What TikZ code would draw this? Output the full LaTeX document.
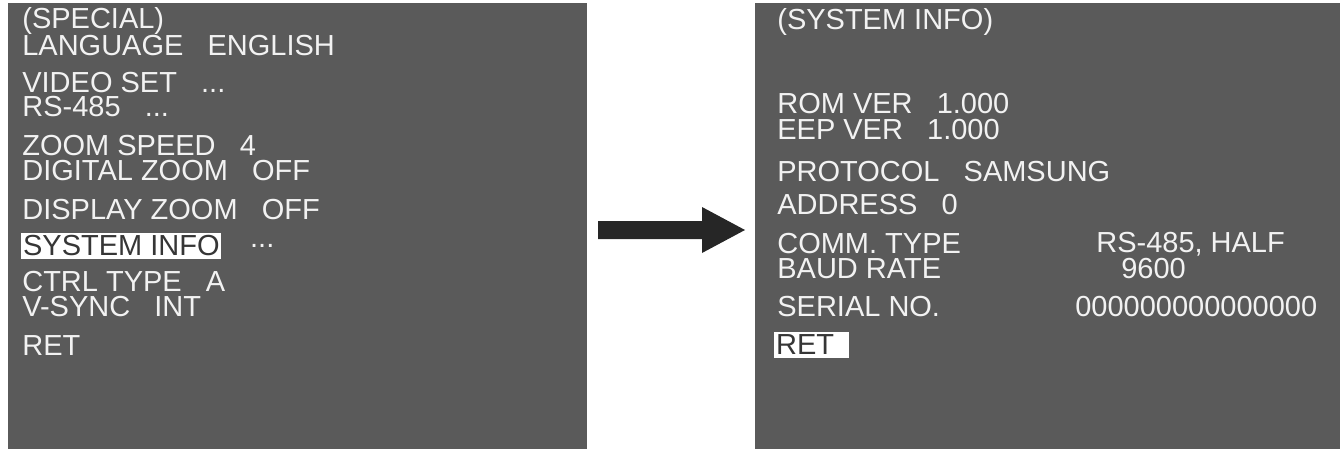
\documentclass[tikz,border=0pt]{standalone}
\usepackage{fontspec}
\setmainfont{Liberation Sans}
\usetikzlibrary{positioning}
\definecolor{screen}{HTML}{5A5A5A}
\definecolor{osd}{HTML}{F2F2F2}
\begin{document}
\begin{tikzpicture}[x=0.02cm,y=-0.02cm,
  item/.style={anchor=west,inner sep=0pt,text=osd,font=\fontsize{16.5}{16.5}\selectfont},
  picked/.style={item,fill=white,text=screen!60!black,inner xsep=1pt,inner ysep=1.5pt}]
  \useasboundingbox (0,0) rectangle (1343,453);
  % screens
  \fill[screen] (8,3) rectangle (587,449);
  \fill[screen] (755,3) rectangle (1340,449);
  % left menu
  \node[item] (sp) at (22,21) {(SPECIAL)};
  \node[item] (lang) at (22,46) {LANGUAGE\ \ \ ENGLISH};
  \node[item] (vid) at (22,83) {VIDEO SET\ \ \ ...};
  \node[item] (rs) at (22,107) {RS-485\ \ \ ...};
  \node[item] (zs) at (22,146) {ZOOM SPEED\ \ \ 4};
  \node[item] (dz) at (22,171) {DIGITAL ZOOM\ \ \ OFF};
  \node[item] (disp) at (22,210) {DISPLAY ZOOM\ \ \ OFF};
  \node[picked] (sys) at (21,246) {SYSTEM INFO};
  \node[item,right=16pt of sys] (sysd) {...};
  \node[item] (ctrl) at (22,282) {CTRL TYPE\ \ \ A};
  \node[item] (vs) at (22,307) {V-SYNC\ \ \ INT};
  \node[item] (ret) at (22,346) {RET};
  % right menu
  \node[item] (si) at (777,22) {(SYSTEM INFO)};
  \node[item] (rom) at (777,104) {ROM VER\ \ \ 1.000};
  \node[item] (eep) at (777,130) {EEP VER\ \ \ 1.000};
  \node[item] (prot) at (777,172) {PROTOCOL\ \ \ SAMSUNG};
  \node[item] (addr) at (777,205) {ADDRESS\ \ \ 0};
  \node[item] (comm) at (777,244) {COMM. TYPE};
  \node[item] (commv) at (1096,244) {RS-485, HALF};
  \node[item] (baud) at (777,269) {BAUD RATE};
  \node[item] (baudv) at (1121,269) {9600};
  \node[item] (ser) at (777,307) {SERIAL NO.};
  \node[item] (serv) at (1075,307) {000000000000000};
  \node[picked] (ret2) at (774,345) {RET\ \,};
  % arrow
  \fill[black!85] (598,221) -- (702,221) -- (702,207) -- (745,230) -- (702,253) -- (702,239) -- (598,239) -- cycle;
\end{tikzpicture}
\end{document}
